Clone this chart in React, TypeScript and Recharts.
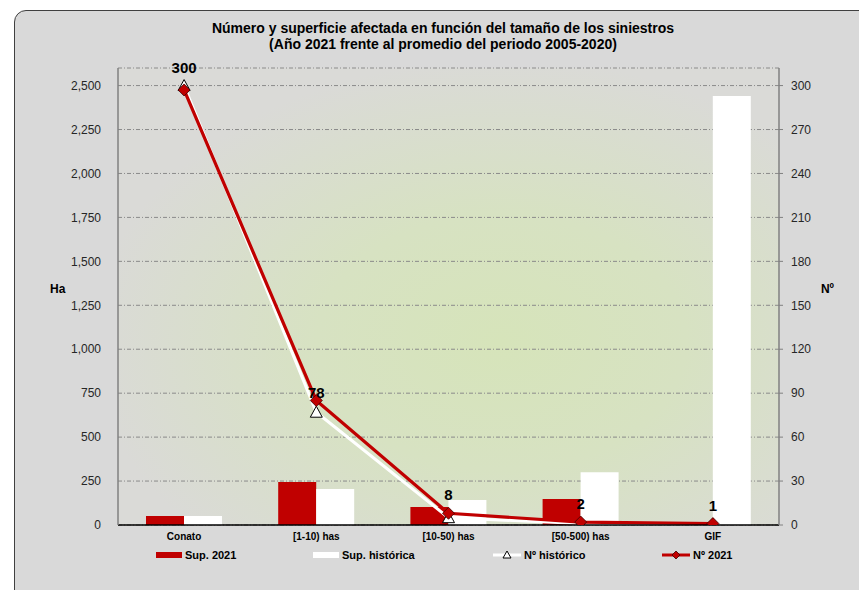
import React from 'react';
import {
  ComposedChart,
  Bar,
  Line,
  XAxis,
  YAxis,
  CartesianGrid,
  Legend,
  LabelList
} from 'recharts';

// categories and values
const categories = ['Conato', '[1-10) has', '[10-50) has', '[50-500) has', 'GIF'];
const sup2021 = [51, 244, 102, 148, 0];
const supHistorica = [51, 205, 142, 300, 2440];
const numHistorico = [300, 77, 5, 1, 0.5];
const num2021 = [297, 85, 8, 2, 1];
const num2021Labels = [300, 78, 8, 2, 1];

const haTicks = [0, 250, 500, 750, 1000, 1250, 1500, 1750, 2000, 2250, 2500];
const numTicks = [0, 30, 60, 90, 120, 150, 180, 210, 240, 270, 300];

const data = categories.map((name, i) => ({
  name,
  sup2021: sup2021[i],
  supHistorica: supHistorica[i],
  numHistorico: numHistorico[i],
  num2021: num2021[i],
  label: num2021Labels[i]
}));

const FONT = '"Liberation Sans", Arial, sans-serif';
const RED = '#C00000';

const Diamond = (props: any) => {
  const { cx, cy } = props;
  if (cx == null || cy == null) return null;
  const r = 6;
  return (
    <polygon
      points={`${cx},${cy - r} ${cx + r},${cy} ${cx},${cy + r} ${cx - r},${cy}`}
      fill={RED}
      stroke="#3a0000"
      strokeWidth={0.8}
    />
  );
};

const Triangle = (props: any) => {
  const { cx, cy } = props;
  if (cx == null || cy == null) return null;
  return (
    <polygon
      points={`${cx},${cy - 6} ${cx + 6},${cy + 5} ${cx - 6},${cy + 5}`}
      fill="#fff"
      stroke="#000"
      strokeWidth={1}
    />
  );
};

const legendItems = [
  { key: 'bar-red', text: 'Sup. 2021', left: 156 },
  { key: 'bar-white', text: 'Sup. histórica', left: 313 },
  { key: 'line-white', text: 'Nº histórico', left: 493 },
  { key: 'line-red', text: 'Nº 2021', left: 662 }
];

const LegendContent = () => (
  <div style={{ position: 'relative', width: 859, height: 18, fontFamily: FONT }}>
    {legendItems.map((it) => (
      <div
        key={it.key}
        style={{
          position: 'absolute',
          left: it.left,
          top: 0,
          height: 18,
          display: 'flex',
          alignItems: 'center',
          fontSize: 11,
          fontWeight: 'bold',
          color: '#000'
        }}
      >
        {it.key.startsWith('bar') ? (
          <div
            style={{
              width: 26,
              height: 6,
              background: it.key === 'bar-red' ? RED : '#fff',
              marginRight: 3
            }}
          />
        ) : (
          <svg width={28} height={12} style={{ marginRight: 3 }}>
            <line
              x1={0}
              x2={28}
              y1={6}
              y2={6}
              stroke={it.key === 'line-red' ? RED : '#fff'}
              strokeWidth={3}
            />
            {it.key === 'line-red' ? (
              <polygon points="14,2 18,6 14,10 10,6" fill={RED} stroke="#3a0000" strokeWidth={0.8} />
            ) : (
              <polygon points="14,2 18,9 10,9" fill="#fff" stroke="#000" strokeWidth={1} />
            )}
          </svg>
        )}
        <span>{it.text}</span>
      </div>
    ))}
  </div>
);

export default function App() {
  return (
    <div
      style={{
        position: 'absolute',
        left: 0,
        top: 0,
        width: 859,
        height: 590,
        overflow: 'hidden',
        background: '#fff',
        fontFamily: FONT
      }}
    >
      <div
        style={{
          position: 'absolute',
          left: 14,
          top: 10,
          width: 880,
          height: 620,
          border: '1px solid #404040',
          borderRadius: 12,
          background: '#D9D9D9'
        }}
      />
      <div
        style={{
          position: 'absolute',
          left: 0,
          top: 20,
          width: 886,
          textAlign: 'center',
          fontSize: 14,
          lineHeight: '16px',
          fontWeight: 'bold',
          color: '#000'
        }}
      >
        Número y superficie afectada en función del tamaño de los siniestros
        <br />
        (Año 2021 frente al promedio del periodo 2005-2020)
      </div>
      <div style={{ position: 'absolute', left: 0, top: 0 }}>
        <ComposedChart
          width={859}
          height={590}
          data={data}
          margin={{ top: 68, right: 0, bottom: 35, left: 0 }}
          barGap={0}
          barSize={38}
        >
          <defs>
            <radialGradient id="plotGrad" cx="0.58" cy="0.6" r="0.62">
              <stop offset="0%" stopColor="#D6E4BA" />
              <stop offset="45%" stopColor="#D7E2C2" />
              <stop offset="100%" stopColor="#DADAD7" />
            </radialGradient>
          </defs>
          <CartesianGrid
            yAxisId="ha"
            vertical={false}
            fill="url(#plotGrad)"
            fillOpacity={1}
            stroke="#8a8a8a"
            strokeDasharray="4 2 1 2"
          />
          <XAxis
            dataKey="name"
            height={30}
            axisLine={{ stroke: '#000', strokeWidth: 1.5 }}
            tickLine={false}
            tick={{ fontSize: 10, fontWeight: 'bold', fill: '#000', fontFamily: FONT }}
            interval={0}
          />
          <YAxis
            yAxisId="ha"
            orientation="left"
            width={118}
            domain={[0, 2600]}
            ticks={haTicks}
            allowDataOverflow
            tickFormatter={(v: number) => v.toLocaleString('en-US')}
            axisLine={{ stroke: '#808080', strokeWidth: 1.5 }}
            tickLine={false}
            tickMargin={11}
            tick={{ fontSize: 12, fill: '#262626', fontFamily: FONT }}
            label={{
              value: 'Ha',
              position: 'insideLeft',
              offset: 50,
              dy: -8,
              style: { fontSize: 12, fontWeight: 'bold', fill: '#000', fontFamily: FONT }
            }}
          />
          <YAxis
            yAxisId="num"
            orientation="right"
            width={80}
            domain={[0, 312]}
            ticks={numTicks}
            allowDataOverflow
            axisLine={{ stroke: '#808080', strokeWidth: 1.5 }}
            tickLine={{ stroke: '#808080' }}
            tickSize={4}
            tickMargin={8}
            tick={{ fontSize: 12, fill: '#262626', fontFamily: FONT }}
            label={{
              value: 'Nº',
              position: 'insideRight',
              offset: 25,
              dy: -8,
              style: { fontSize: 12, fontWeight: 'bold', fill: '#000', fontFamily: FONT }
            }}
          />
          <Bar yAxisId="ha" dataKey="sup2021" name="Sup. 2021" fill={RED} isAnimationActive={false} />
          <Bar yAxisId="ha" dataKey="supHistorica" name="Sup. histórica" fill="#FFFFFF" isAnimationActive={false} />
          <Line
            yAxisId="num"
            dataKey="numHistorico"
            name="Nº histórico"
            stroke="#FFFFFF"
            strokeWidth={3}
            dot={<Triangle />}
            activeDot={false}
            isAnimationActive={false}
          />
          <Line
            yAxisId="num"
            dataKey="num2021"
            name="Nº 2021"
            stroke={RED}
            strokeWidth={3.2}
            dot={<Diamond />}
            activeDot={false}
            isAnimationActive={false}
          />
          <Line
            yAxisId="num"
            dataKey="label"
            stroke="none"
            dot={false}
            activeDot={false}
            legendType="none"
            isAnimationActive={false}
          >
            <LabelList
              dataKey="label"
              position="top"
              offset={13}
              style={{ fontSize: 15, fontWeight: 'bold', fill: '#000', fontFamily: FONT }}
            />
          </Line>
          <Legend
            layout="horizontal"
            verticalAlign="middle"
            align="center"
            wrapperStyle={{ left: 0, top: 546, width: 859, height: 18 }}
            content={<LegendContent />}
          />
        </ComposedChart>
      </div>
    </div>
  );
}
